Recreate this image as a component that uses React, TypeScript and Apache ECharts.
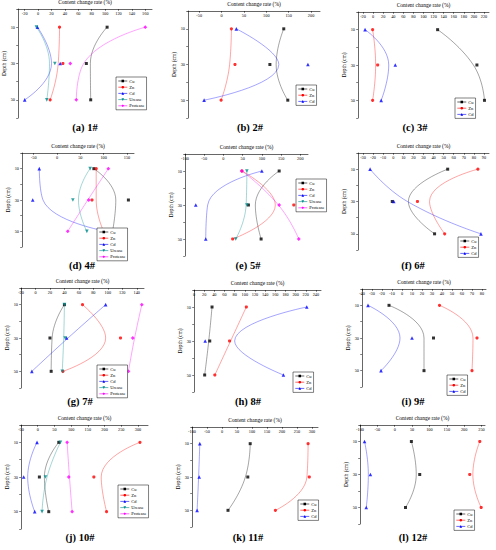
import React, { useEffect, useRef } from "react";
import * as echarts from "echarts";

const panelCaptions = ["(a) 1#", "(b) 2#", "(c) 3#", "(d) 4#", "(e) 5#", "(f) 6#", "(g) 7#", "(h) 8#", "(i) 9#", "(j) 10#", "(k) 11#", "(l) 12#"];
const depths = [10, 30, 50];
const depthLabels = [10, 30, 50];
const depthTicks = [0, 10, 20, 30, 40, 50, 60];
const xMins = [-30, -75, -30, -75, -100, -35, -20, 0, -40, -50, -100, -100];
const xMaxs = [170, 220, 230, 165, 220, 95, 150, 250, 84, 330, 320, 260];
const xTickLabels = [
  [-20, 0, 20, 40, 60, 80, 100, 120, 140, 160],
  [-50, 0, 50, 100, 150, 200],
  [-20, 0, 20, 40, 60, 80, 100, 120, 140, 160, 180, 200, 220],
  [-50, 0, 50, 100, 150],
  [-100, -50, 0, 50, 100, 150, 200],
  [-30, -20, -10, 0, 10, 20, 30, 40, 50, 60, 70, 80, 90],
  [-20, 0, 20, 40, 60, 80, 100, 120, 140],
  [0, 20, 40, 60, 80, 100, 120, 140, 160, 180, 200, 220, 240],
  [-40, -30, -20, -10, 0, 10, 20, 30, 40, 50, 60, 70, 80],
  [-50, 0, 50, 100, 150, 200, 250, 300],
  [-100, -50, 0, 50, 100, 150, 200, 250, 300],
  [-100, -50, 0, 50, 100, 150, 200, 250],
];

// measured values at depth 10, 30, 50 cm
const cuRates = [[103, 72, 78.5], [139, 108, 148], [128, 206, 221], [79, 153, 119], [145, 65, 98], [54, -1, 41], [40, 20, 21.7], [35.5, 31, 21], [-13, 31.5, 22], [63, 5, 33], [94, 86, 20], [48, 72, 31]];
const znRates = [[32, 37, 18], [22, 30, -1], [-1, 9, -1], [84, 75, 100], [48, 183, 24], [84, 24, 51], [65, 117.5, 38], [103, 70, 41], [37.5, 75, 70], [306, 168, 206], [287, 291, 178], [245, 216, 249]];
const cdRates = [[-1, 33, -20], [33, 193, -39], [-16, 44, 16], [-38, -52, 106], [100, -72, -46], [-23, 0.5, 87], [97, 43, -5], [222, 22, 176], [-34, 10, -21], [-2, -42, -9], [-74, -76, -83], [-87, -70, -82]];
const ureaseRates = [[-2.5, 25, 13], null, null, [71, 34, 64], [61, 61, 32], null, [40, 41, 37], null, null, [68, 23, 13], null, null];
const proteaseRates = [[160, 48, 57], null, null, [110, 68, 23], [48, 145, 196], null, [147, 134.5, 128.5], null, null, [88, 93, 103], null, null];
// fitted curve value read at depth 30 cm (curve passes through the end points)
const cuFitMid = [78, 122, 199, 126, 83, 15, 23, 29, 22, 20, 78, 62];
const znFitMid = [30, 18, 5, 84, 135, 36, 97, 72, 71, 190, 283, 225];
const cdFitMid = [20, 128, 31, -30, -41, 14, 45, 80, -2, -30, -78, -76];
const ureaseFitMid = [17, null, null, 46, 59, null, 39, null, null, 28, null, null];
const proteaseFitMid = [68, null, null, 66, 143, null, 137, null, null, 95, null, null];

const FONT = "Liberation Serif";
const DOWN_TRI = "path://M0,0L10,0L5,9Z";

const elements = [
  { name: "Cu", color: "#000000", symbol: "rect", size: 3, values: cuRates, fit: cuFitMid },
  { name: "Zn", color: "#ff0000", symbol: "circle", size: 3.2, values: znRates, fit: znFitMid },
  { name: "Cd", color: "#0000ff", symbol: "triangle", size: 3.6, values: cdRates, fit: cdFitMid },
  { name: "Urease", color: "#008b8b", symbol: DOWN_TRI, size: 3.6, values: ureaseRates, fit: ureaseFitMid },
  { name: "Protease", color: "#ff00ff", symbol: "diamond", size: 3.8, values: proteaseRates, fit: proteaseFitMid },
];

// layout: [left, top, right, bottom] in px
const gridBoxes = [
  [18, 9, 152, 118], [188, 11, 320, 118], [358, 12, 489, 118],
  [22, 153, 134, 247], [185, 154, 308, 256], [358, 153, 489, 250],
  [21, 288, 144, 388], [194, 290, 321, 392], [362, 289, 486, 387],
  [21, 425, 148, 529], [192, 427, 318, 527], [360, 425, 485, 524],
];
const legendBoxes = [
  [116, 77], [296, 85], [455, 98],
  [97, 228], [296, 179], [458, 237],
  [97, 365], [293, 372], [447, 375],
  [118, 485], [298, 500], [454, 510],
];
const captionPos = [
  [85, 127], [250, 127], [415, 127],
  [82, 265], [248, 265], [413, 265],
  [80, 401], [248, 401], [413, 401],
  [80, 537], [248, 537], [413, 537],
];

function buildOption() {
  const grid: any[] = [];
  const xAxis: any[] = [];
  const yAxis: any[] = [];
  const series: any[] = [];
  const legend: any[] = [];
  const graphic: any[] = [];

  for (let i = 0; i < 12; i++) {
    const [l, t, r, b] = gridBoxes[i];
    grid.push({ left: l, top: t, width: r - l, height: b - t, containLabel: false, outerBoundsMode: "none" });
    xAxis.push({
      type: "value",
      gridIndex: i,
      position: "top",
      min: xMins[i],
      max: xMaxs[i],
      name: "Content change rate (%)",
      nameLocation: "middle",
      nameGap: 4,
      nameTextStyle: { fontFamily: FONT, fontSize: 5.5, color: "#000" },
      axisLine: { onZero: false, lineStyle: { color: "#000", width: 0.6 } },
      axisTick: { customValues: xTickLabels[i], inside: true, length: 1.8, lineStyle: { color: "#000", width: 0.5 } },
      axisLabel: { customValues: xTickLabels[i], inside: true, margin: 2, fontFamily: FONT, fontSize: 4.3, color: "#000" },
      splitLine: { show: false },
    });
    yAxis.push({
      type: "value",
      gridIndex: i,
      inverse: true,
      min: 0,
      max: 60,
      name: "Depth (cm)",
      nameLocation: "middle",
      nameGap: 10,
      nameRotate: 90,
      nameTextStyle: { fontFamily: FONT, fontSize: 5.5, color: "#000" },
      axisLine: { onZero: false, lineStyle: { color: "#000", width: 0.6 } },
      axisTick: { customValues: depthTicks, inside: false, length: 1.8, lineStyle: { color: "#000", width: 0.5 } },
      axisLabel: { customValues: depthLabels, margin: 3, fontFamily: FONT, fontSize: 4.3, color: "#000" },
      splitLine: { show: false },
    });

    const names: string[] = [];
    elements.forEach((el) => {
      const vals = el.values[i];
      const mid = el.fit[i];
      if (!vals || mid === null || mid === undefined) return;
      names.push(el.name);
      series.push({
        type: "line",
        name: el.name,
        xAxisIndex: i,
        yAxisIndex: i,
        data: [[vals[0], depths[0]], [mid, depths[1]], [vals[2], depths[2]]],
        smooth: true,
        symbol: el.symbol,
        symbolSize: el.size,
        showSymbol: false,
        itemStyle: { color: el.color },
        lineStyle: { color: el.color, width: 0.8, opacity: 0.45 },
        silent: true,
        z: 2,
      });
      series.push({
        type: "scatter",
        name: el.name + " data",
        xAxisIndex: i,
        yAxisIndex: i,
        data: vals.map((v, k) => [v, depths[k]]),
        symbol: el.symbol,
        symbolSize: el.size,
        itemStyle: { color: el.color },
        silent: true,
        z: 3,
      });
    });

    legend.push({
      data: names,
      orient: "vertical",
      left: legendBoxes[i][0],
      top: legendBoxes[i][1],
      padding: [1.5, 2, 1.5, 2],
      itemGap: 1.2,
      itemWidth: 9,
      itemHeight: 3.2,
      borderColor: "#000",
      borderWidth: 0.5,
      borderRadius: 0,
      selectedMode: false,
      backgroundColor: "#fff",
      lineStyle: { opacity: 1, width: 0.6 },
      textStyle: { fontFamily: FONT, fontSize: 4.5, color: "#000", padding: [0, 0, 0, -3] },
    });

    graphic.push({
      type: "text",
      x: captionPos[i][0],
      y: captionPos[i][1],
      style: {
        text: panelCaptions[i],
        fontFamily: FONT,
        fontSize: 10.5,
        fontWeight: "bold",
        fill: "#000",
        align: "center",
        verticalAlign: "middle",
      },
    });
  }

  return {
    animation: false,
    backgroundColor: "#ffffff",
    grid,
    xAxis,
    yAxis,
    series,
    legend,
    graphic,
  };
}

export default function App() {
  const ref = useRef<HTMLDivElement>(null);
  useEffect(() => {
    if (!ref.current) return;
    const chart = echarts.init(ref.current, undefined, { renderer: "svg" });
    chart.setOption(buildOption() as any);
    return () => chart.dispose();
  }, []);
  return (
    <div style={{ position: "fixed", left: 0, top: 0, width: 496, height: 550, background: "#fff" }}>
      <div ref={ref} style={{ width: 496, height: 550 }} />
    </div>
  );
}
